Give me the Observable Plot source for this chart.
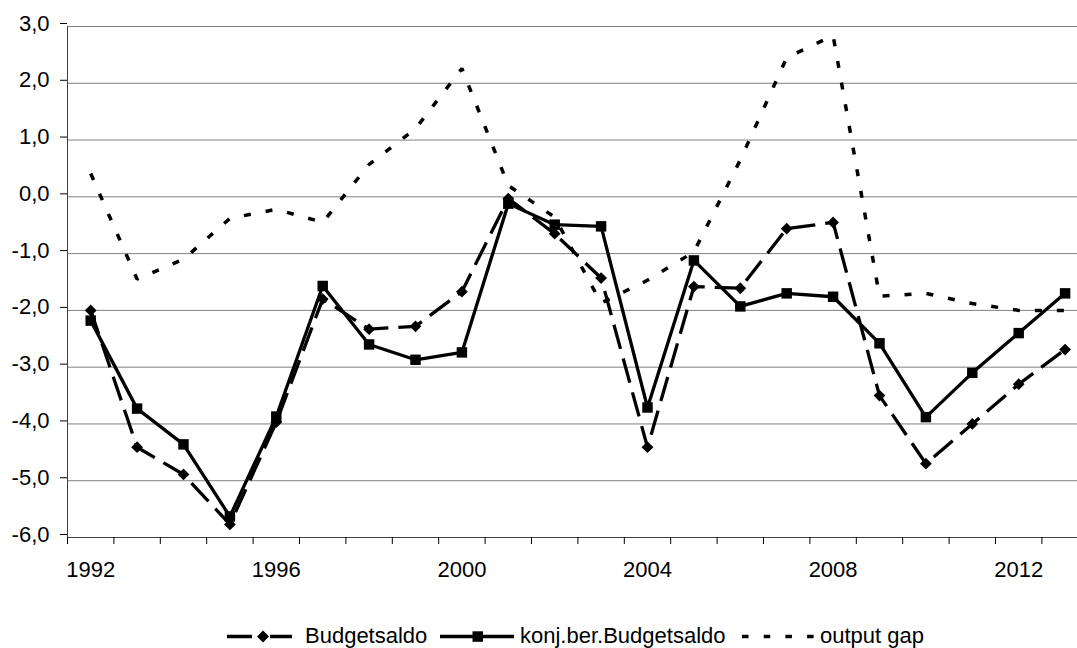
<!DOCTYPE html>
<html>
<head>
<meta charset="utf-8">
<script src="https://cdn.jsdelivr.net/npm/d3@7"></script>
<script src="https://cdn.jsdelivr.net/npm/@observablehq/plot@0.6"></script>
<style>
  html, body { margin: 0; padding: 0; background: #fff; }
  body { font-family: "Liberation Sans", Arial, sans-serif; }
  #wrap { position: relative; width: 1077px; height: 648px; overflow: hidden; background: #fff; }
  #legend { position: absolute; left: 0; top: 624px; width: 1077px; height: 24px; font-size: 22px; color: #000; }
  .sw { position: absolute; top: 0; }
  .lt { position: absolute; top: 0; height: 24px; line-height: 24px; white-space: nowrap; }
</style>
</head>
<body>
<div id="wrap">
  <div id="chart"></div>
  <div id="legend"></div>
</div>
<script>
// ---- data ----
const years = [1992,1993,1994,1995,1996,1997,1998,1999,2000,2001,2002,2003,2004,2005,2006,2007,2008,2009,2010,2011,2012,2013];
const budgetsaldo = [-2.00,-4.41,-4.89,-5.77,-3.97,-1.80,-2.33,-2.28,-1.67,-0.03,-0.65,-1.43,-4.41,-1.58,-1.61,-0.56,-0.45,-3.50,-4.70,-4.00,-3.30,-2.69];
const konjBudgetsaldo = [-2.18,-3.73,-4.36,-5.63,-3.87,-1.57,-2.60,-2.87,-2.74,-0.12,-0.49,-0.52,-3.71,-1.12,-1.93,-1.70,-1.76,-2.58,-3.88,-3.10,-2.40,-1.70];
const outputGap = [0.41,-1.45,-1.10,-0.38,-0.22,-0.45,0.57,1.20,2.26,0.20,-0.36,-1.87,-1.47,-0.97,0.65,2.45,2.84,-1.75,-1.70,-1.88,-2.00,-2.00];
const yTicks = [-6,-5,-4,-3,-2,-1,0,1,2,3];
const xTickLabels = [1992,1996,2000,2004,2008,2012];
const seriesNames = ["Budgetsaldo","konj.ber.Budgetsaldo","output gap"];

// tables built from the arrays
const tB = years.map((year, i) => ({year, value: budgetsaldo[i]}));
const tK = years.map((year, i) => ({year, value: konjBudgetsaldo[i]}));
const tO = years.map((year, i) => ({year, value: outputGap[i]}));
const boundaries = years.map(y => y - 0.5);

const fmt = d => d.toFixed(1).replace(".", ",");
const font = "'Liberation Sans', Arial, sans-serif";

const chart = Plot.plot({
  width: 1077,
  height: 600,
  marginLeft: 67,
  marginRight: 0,
  marginTop: 26,
  marginBottom: 63,
  style: { overflow: "hidden", fontFamily: font, fontSize: "22px", color: "#000", background: "#fff" },
  x: { domain: [years[0] - 0.5, years[years.length - 1] + 0.5], range: [67, 67 + 22 * 46.4] },
  y: { domain: [-6, 3], range: [537, 26] },
  marks: [
    Plot.ruleY(yTicks, { stroke: "#808080", strokeWidth: 1 }),
    Plot.ruleY([-6], { stroke: "#404040", strokeWidth: 1 }),
    Plot.ruleX([years[0] - 0.5], { y1: -6, y2: 3, stroke: "#404040", strokeWidth: 1 }),
    Plot.axisY(yTicks, { tickSize: 7, tickPadding: 11, tickFormat: fmt, fontSize: 22, label: null, dy: -3 }),
    Plot.axisX(boundaries, { tickSize: 7, tickFormat: () => "", label: null }),
    Plot.axisX(xTickLabels, { tickSize: 0, tickPadding: 24, tickFormat: d => String(d), fontSize: 22, label: null }),
    Plot.line(tB, { x: "year", y: "value", stroke: "#000", strokeWidth: 3.3, strokeDasharray: "25,10", strokeLinecap: "butt", strokeLinejoin: "miter" }),
    Plot.dot(tB, { x: "year", y: "value", symbol: "diamond2", r: 5.3, fill: "#000", stroke: null }),
    Plot.line(tK, { x: "year", y: "value", stroke: "#000", strokeWidth: 3.3, strokeLinecap: "butt", strokeLinejoin: "miter" }),
    Plot.dot(tK, { x: "year", y: "value", symbol: "square", r: 5.9, fill: "#000", stroke: null }),
    Plot.line(tO, { x: "year", y: "value", stroke: "#000", strokeWidth: 3.5, strokeDasharray: "7,15", strokeLinecap: "butt", strokeLinejoin: "miter" })
  ]
});
document.getElementById("chart").appendChild(chart);

// ---- legend ----
const legend = document.getElementById("legend");
const NS = "http://www.w3.org/2000/svg";
function swatch(left, width, build) {
  const s = document.createElementNS(NS, "svg");
  s.setAttribute("width", width); s.setAttribute("height", 24);
  s.setAttribute("class", "sw"); s.style.left = left + "px";
  build(s);
  legend.appendChild(s);
}
function el(parent, tag, attrs) {
  const e = document.createElementNS(NS, tag);
  for (const k in attrs) e.setAttribute(k, attrs[k]);
  parent.appendChild(e);
}
function label(left, text) {
  const d = document.createElement("div");
  d.className = "lt"; d.style.left = left + "px"; d.textContent = text;
  legend.appendChild(d);
}
swatch(227, 65, s => {
  el(s, "line", {x1: 0, x2: 65, y1: 12.5, y2: 12.5, stroke: "#000", "stroke-width": 3.3, "stroke-dasharray": "25,18"});
  el(s, "path", {d: "M36,6.5L42,12.5L36,18.5L30,12.5Z", fill: "#000"});
});
label(305, seriesNames[0]);
swatch(440, 74, s => {
  el(s, "line", {x1: 0, x2: 74, y1: 12.5, y2: 12.5, stroke: "#000", "stroke-width": 3.3});
  el(s, "rect", {x: 32.5, y: 7.3, width: 10.5, height: 10.5, fill: "#000"});
});
label(520, seriesNames[1]);
swatch(742, 72, s => {
  el(s, "line", {x1: 0, x2: 72, y1: 12.5, y2: 12.5, stroke: "#000", "stroke-width": 3.5, "stroke-dasharray": "6.5,15.2"});
});
label(820, seriesNames[2]);
</script>
</body>
</html>
